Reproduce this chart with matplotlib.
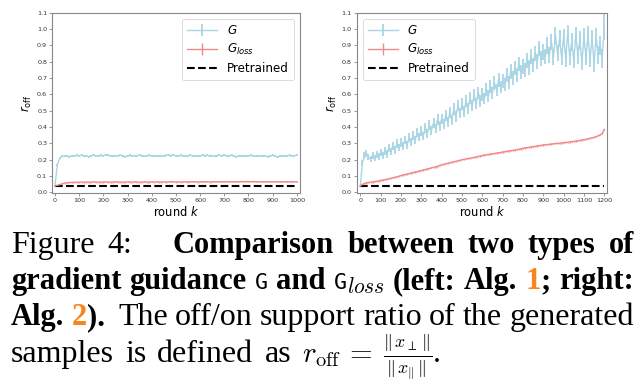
import numpy as np
import matplotlib
matplotlib.use("Agg")
import matplotlib.pyplot as plt

# ---------------- data ----------------
k_left = list(range(0, 1001, 10))
G_left = [0.040, 0.170, 0.210, 0.222, 0.220, 0.225, 0.218, 0.224, 0.221, 0.226,
          0.223, 0.228, 0.222, 0.225, 0.219, 0.224, 0.227, 0.221, 0.223, 0.226,
          0.224, 0.230, 0.226, 0.222, 0.225, 0.221, 0.224, 0.228, 0.222, 0.219,
          0.223, 0.226, 0.224, 0.221, 0.225, 0.227, 0.222, 0.220, 0.224, 0.226,
          0.223, 0.221, 0.225, 0.222, 0.224, 0.220, 0.226, 0.229, 0.225, 0.230,
          0.224, 0.221, 0.226, 0.223, 0.220, 0.224, 0.227, 0.222, 0.225, 0.221,
          0.223, 0.226, 0.224, 0.228, 0.222, 0.225, 0.220, 0.224, 0.227, 0.223,
          0.229, 0.221, 0.224, 0.226, 0.222, 0.219, 0.223, 0.225, 0.221, 0.224,
          0.222, 0.226, 0.223, 0.220, 0.224, 0.221, 0.225, 0.222, 0.219, 0.223,
          0.226, 0.222, 0.218, 0.221, 0.224, 0.220, 0.223, 0.226, 0.221, 0.224,
          0.228]
G_left_err = 0.006
Gloss_left = [0.040, 0.043, 0.047, 0.052, 0.056, 0.059, 0.060, 0.061, 0.061, 0.062,
              0.062, 0.063, 0.062, 0.063, 0.062, 0.063, 0.064, 0.063, 0.062, 0.063,
              0.063, 0.064, 0.063, 0.062, 0.063, 0.064, 0.063, 0.063, 0.062, 0.063,
              0.064, 0.063, 0.063, 0.064, 0.063, 0.062, 0.063, 0.064, 0.063, 0.063,
              0.064, 0.063, 0.064, 0.063, 0.063, 0.064, 0.063, 0.064, 0.065, 0.064,
              0.063, 0.064, 0.063, 0.064, 0.064, 0.063, 0.064, 0.065, 0.064, 0.063,
              0.064, 0.065, 0.064, 0.064, 0.063, 0.064, 0.065, 0.064, 0.064, 0.065,
              0.064, 0.065, 0.064, 0.065, 0.065, 0.064, 0.065, 0.066, 0.065, 0.066,
              0.066, 0.065, 0.066, 0.065, 0.064, 0.065, 0.064, 0.065, 0.064, 0.065,
              0.064, 0.065, 0.064, 0.064, 0.065, 0.064, 0.064, 0.065, 0.064, 0.064,
              0.064]
Gloss_left_err = 0.003

k_right = list(range(0, 1201, 10))
G_right = [0.040, 0.180, 0.225, 0.240, 0.215, 0.205, 0.225, 0.210, 0.230, 0.220,
           0.245, 0.225, 0.255, 0.235, 0.270, 0.250, 0.285, 0.260, 0.300, 0.275,
           0.305, 0.285, 0.320, 0.290, 0.335, 0.310, 0.350, 0.320, 0.365, 0.340,
           0.375, 0.345, 0.395, 0.360, 0.410, 0.380, 0.425, 0.390, 0.445, 0.405,
           0.450, 0.420, 0.470, 0.430, 0.490, 0.445, 0.510, 0.465, 0.530, 0.485,
           0.540, 0.495, 0.560, 0.515, 0.575, 0.530, 0.595, 0.545, 0.610, 0.560,
           0.600, 0.575, 0.630, 0.590, 0.650, 0.610, 0.670, 0.625, 0.690, 0.645,
           0.680, 0.660, 0.720, 0.675, 0.740, 0.700, 0.760, 0.720, 0.785, 0.735,
           0.770, 0.750, 0.810, 0.765, 0.830, 0.780, 0.850, 0.800, 0.880, 0.820,
           0.860, 0.830, 0.900, 0.840, 0.920, 0.830, 0.960, 0.850, 0.940, 0.830,
           0.950, 0.820, 0.970, 0.830, 0.920, 0.810, 0.960, 0.840, 0.930, 0.800,
           0.950, 0.830, 0.960, 0.820, 0.940, 0.790, 0.950, 0.840, 0.900, 0.820,
           1.010]
G_right_err = [0.005, 0.020, 0.020, 0.022, 0.020, 0.020, 0.021, 0.020, 0.022, 0.020,
               0.022, 0.021, 0.024, 0.022, 0.025, 0.022, 0.025, 0.023, 0.026, 0.023,
               0.026, 0.024, 0.027, 0.024, 0.027, 0.025, 0.028, 0.025, 0.028, 0.026,
               0.029, 0.026, 0.030, 0.027, 0.030, 0.028, 0.031, 0.028, 0.032, 0.029,
               0.032, 0.030, 0.033, 0.030, 0.034, 0.031, 0.034, 0.032, 0.035, 0.032,
               0.036, 0.033, 0.036, 0.034, 0.037, 0.034, 0.038, 0.035, 0.038, 0.036,
               0.039, 0.036, 0.040, 0.037, 0.040, 0.038, 0.041, 0.038, 0.042, 0.039,
               0.042, 0.040, 0.043, 0.040, 0.044, 0.041, 0.044, 0.042, 0.045, 0.042,
               0.046, 0.043, 0.046, 0.044, 0.047, 0.044, 0.048, 0.045, 0.048, 0.046,
               0.049, 0.046, 0.050, 0.047, 0.050, 0.048, 0.051, 0.048, 0.052, 0.049,
               0.052, 0.050, 0.053, 0.050, 0.054, 0.051, 0.054, 0.052, 0.055, 0.052,
               0.056, 0.053, 0.056, 0.054, 0.057, 0.054, 0.058, 0.055, 0.058, 0.056,
               0.080]
Gloss_right = [0.040, 0.048, 0.055, 0.058, 0.060, 0.062, 0.064, 0.066, 0.068, 0.070,
               0.073, 0.075, 0.078, 0.080, 0.083, 0.086, 0.089, 0.092, 0.095, 0.099,
               0.103, 0.106, 0.109, 0.112, 0.115, 0.118, 0.121, 0.124, 0.127, 0.131,
               0.134, 0.137, 0.140, 0.143, 0.146, 0.150, 0.153, 0.156, 0.160, 0.164,
               0.169, 0.172, 0.175, 0.178, 0.181, 0.184, 0.187, 0.190, 0.193, 0.196,
               0.200, 0.202, 0.205, 0.207, 0.209, 0.212, 0.214, 0.217, 0.220, 0.222,
               0.226, 0.228, 0.230, 0.232, 0.234, 0.236, 0.238, 0.240, 0.242, 0.244,
               0.247, 0.249, 0.251, 0.253, 0.255, 0.257, 0.259, 0.261, 0.264, 0.266,
               0.270, 0.272, 0.274, 0.276, 0.278, 0.280, 0.282, 0.284, 0.286, 0.288,
               0.290, 0.291, 0.293, 0.294, 0.296, 0.297, 0.299, 0.300, 0.301, 0.302,
               0.304, 0.306, 0.307, 0.309, 0.311, 0.312, 0.314, 0.316, 0.318, 0.320,
               0.323, 0.325, 0.328, 0.331, 0.334, 0.337, 0.341, 0.346, 0.352, 0.360,
               0.385]
Gloss_right_err = 0.004

pretrained_value = 0.04

series_labels = [r'$G$', r'$G_{loss}$', 'Pretrained']
y_ticks = [0.0, 0.1, 0.2, 0.3, 0.4, 0.5, 0.6, 0.7, 0.8, 0.9, 1.0, 1.1]
x_ticks_left = list(range(0, 1001, 100))
x_ticks_right = list(range(0, 1201, 100))

# ---------------- figure ----------------
W, H = 644, 391
fig = plt.figure(figsize=(W / 100, H / 100), dpi=100)

top_px, bot_px = 12.7, 193.3
ax1 = fig.add_axes([52.3 / W, 1 - bot_px / H, (300 - 52.3) / W, (bot_px - top_px) / H])
ax2 = fig.add_axes([356.7 / W, 1 - bot_px / H, (607.3 - 356.7) / W, (bot_px - top_px) / H])

c_G = '#a9d6e5'
c_L = '#f08a8a'
spine_c = '#888888'


def panel(ax, k, g, ge, gl, gle, xt, xlim, loc):
    h1 = ax.errorbar(k, g, yerr=ge, color=c_G, ecolor=c_G, lw=1.0, elinewidth=1.3,
                     label=series_labels[0])
    h2 = ax.errorbar(k, gl, yerr=gle, color=c_L, ecolor=c_L, lw=1.0, elinewidth=1.0,
                     label=series_labels[1])
    h3, = ax.plot([k[0], k[-1]], [pretrained_value, pretrained_value], color='black',
                  ls='--', lw=1.5, label=series_labels[2])
    ax.set_xlim(*xlim)
    ax.set_ylim(-0.006, 1.1)
    ax.set_yticks(y_ticks)
    ax.set_yticklabels(['%.1f' % v for v in y_ticks])
    ax.set_xticks(xt)
    ax.tick_params(labelsize=4.6, length=2.2, width=0.6, color=spine_c,
                   labelcolor='#333333', pad=1.5)
    for s in ax.spines.values():
        s.set_color(spine_c)
        s.set_linewidth(0.8)
    ax.set_xlabel(r'round $k$', fontsize=8.3, labelpad=1)
    ax.set_ylabel(r'$r_{\mathrm{off}}$', fontsize=8.3, labelpad=2)
    leg = ax.legend([h1, h2, h3], series_labels, loc=loc, fontsize=8.6,
                    handlelength=2.5, borderpad=0.45, labelspacing=0.4,
                    handletextpad=0.8, framealpha=0.8)
    leg.get_frame().set_linewidth(0.6)


panel(ax1, k_left, G_left, G_left_err, Gloss_left, Gloss_left_err,
      x_ticks_left, (-11, 1013), 'upper right')
panel(ax2, k_right, G_right, G_right_err, Gloss_right, Gloss_right_err,
      x_ticks_right, (-18, 1215), 'upper left')

# ---------------- caption ----------------
renderer = fig.canvas.get_renderer()
FS_R = 23.0
FS_B = 22.0
orange = '#f7861c'
R = dict(family='Liberation Serif', fontsize=FS_R)
B = dict(family='Liberation Serif', fontsize=FS_B, weight='bold')
BO = dict(B, color=orange)
M = dict(family='DejaVu Sans Mono', fontsize=15.5)
SUB = dict(fontsize=15.5, math_fontfamily='cm')
MATH = dict(fontsize=21, math_fontfamily='cm')
FRAC = dict(fontsize=18.5, math_fontfamily='cm')


def layout_line(words, y, x0, x1, justify=True, extras=None, space=10):
    arts, widths = [], []
    for w in words:
        segs, ww = [], 0.0
        for s, kw, dy in w:
            t = fig.text(0, 0, s, va='baseline', ha='left', **kw)
            bb = t.get_window_extent(renderer)
            segs.append((t, ww, dy))
            ww += bb.width
        arts.append(segs)
        widths.append(ww)
    extras = extras or [0] * len(words)
    total = sum(widths) + sum(extras)
    gap = (x1 - x0 - total) / (len(words) - 1) if justify else space
    x = x0
    for i, segs in enumerate(arts):
        for t, off, dy in segs:
            t.set_position(((x + off) / W, 1 - (y - dy) / H))
        x += widths[i] + extras[i] + gap


X0, X1 = 11, 634
line1 = [[("Figure", R, 0)], [("4:", R, 0)], [("Comparison", B, 0)], [("between", B, 0)],
         [("two", B, 0)], [("types", B, 0)], [("of", B, 0)]]
layout_line(line1, 253, X0, X1, extras=[0, 27, 0, 0, 0, 0, 0])

line2 = [[("gradient", B, 0)], [("guidance", B, 0)], [("G", M, 0)], [("and", B, 0)],
         [("G", M, 0), (r"$loss$", SUB, -4)], [("(left:", B, 0)], [("Alg.", B, 0)],
         [("1", BO, 0), (";", B, 0)], [("right:", B, 0)]]
layout_line(line2, 289, X0, X1)

line3 = [[("Alg.", B, 0)], [("2", BO, 0), (").", B, 0)], [("The", R, 0)], [("off/on", R, 0)],
         [("support", R, 0)], [("ratio", R, 0)], [("of", R, 0)], [("the", R, 0)],
         [("generated", R, 0)]]
layout_line(line3, 325, X0, X1, extras=[0, 6, 0, 0, 0, 0, 0, 0, 0])

line4 = [[("samples", R, 0)], [("is", R, 0)], [("defined", R, 0)], [("as", R, 0)],
         [(r"$r_{\mathrm{off}}\,=$", MATH, 0)],
         [(r"$\frac{\Vert\, x_{\perp}\,\Vert}{\Vert\, x_{\Vert}\,\Vert}$", FRAC, 0),
          (".", R, 0)]]
layout_line(line4, 362, X0, X1, justify=False, space=11)

fig.savefig("out.png", dpi=100)
